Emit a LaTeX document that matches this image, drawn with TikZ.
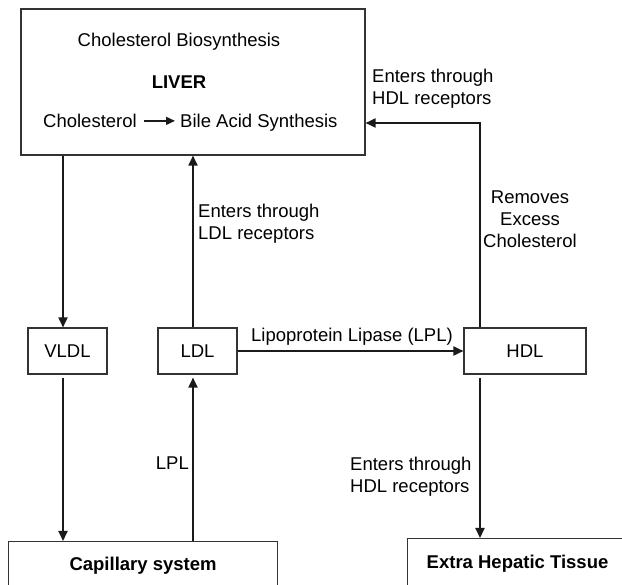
\documentclass[tikz,border=0pt]{standalone}
\usepackage{fontspec}
\setmainfont{Liberation Sans}
\usetikzlibrary{arrows.meta,positioning}
\definecolor{boxgray}{HTML}{333333}
\definecolor{linegray}{HTML}{1a1a1a}

\begin{document}
\begin{tikzpicture}[x=1pt, y=-1pt,
		every node/.style={font=\fontsize{18.5}{22}\selectfont, inner sep=0pt},
		bold/.style={font=\fontsize{18.5}{22}\selectfont\bfseries},
		box/.style={draw=boxgray, line width=1.1pt},
		smallbox/.style={box, minimum height=46pt},
		flow/.style={draw=linegray, line width=1.8pt, -{Triangle[length=10pt,width=9pt]}}]
		\useasboundingbox (0,0) rectangle (622,585);
		% liver box
		\node[box, minimum width=344pt, minimum height=146pt] (liver) at (193,82) {};
		\node (biosyn) at (179,42) {Cholesterol Biosynthesis};
		\node[bold] (livername) at (179,82) {LIVER};
		\node[anchor=base west] (chol) at (43,127.5) {Cholesterol};
		\node[anchor=base west] (bile) at (180,127.5) {Bile Acid Synthesis};
		\draw[flow, line width=1.4pt, -{Triangle[length=9pt,width=8pt]}, shorten <=7pt, shorten >=5pt] (chol.east) -- (chol.east -| bile.west);
		% lipoproteins
		\node[smallbox, minimum width=79pt] (vldl) at (67.5,351) {VLDL};
		\node[smallbox, minimum width=79pt] (ldl) at (197.5,351) {LDL};
		\node[smallbox, minimum width=122pt] (hdl) at (525,351) {HDL};
		% tissues (cut at page edge)
		\node[box, bold, anchor=north west, minimum width=269pt, inner ysep=16pt] (cap) at (8,541) {Capillary system};
		\node[box, bold, anchor=north west, minimum width=220pt, inner ysep=17pt] (extra) at (407,538) {Extra Hepatic Tissue};
		\coordinate (bend) at (480,123);
		% arrows
		\draw[flow] ([xshift=-4.5pt]vldl.north |- liver.south) -- ([xshift=-4.5pt]vldl.north);
		\draw[flow, shorten <=3pt] ([xshift=-4.5pt]vldl.south) -- ([xshift=-4.5pt]vldl.south |- cap.north);
		\draw[flow, shorten >=3pt] ([xshift=-4.5pt]ldl.south |- cap.north) -- ([xshift=-4.5pt]ldl.south);
		\draw[flow] ([xshift=-4.5pt]ldl.north) -- ([xshift=-4.5pt]ldl.north |- liver.south);
		\draw[flow] (ldl.east) -- (hdl.west);
		\draw[flow] ([xshift=-45pt]hdl.north) -- (bend) -- (bend -| liver.east);
		\draw[flow, shorten <=3pt] ([xshift=-45pt]hdl.south) -- ([xshift=-45pt]hdl.south |- extra.north);
		% labels
		\node[align=left, anchor=west] (ldlrec) at (198,224) {Enters through\\LDL receptors};
		\node (lplname) at (352,337) {Lipoprotein Lipase (LPL)};
		\node[anchor=east] (lpl) at (189,463) {LPL};
		\node[align=left, anchor=west] (hdlrec) at (372,89) {Enters through\\HDL receptors};
		\node[align=center] (removes) at (530,219) {Removes\\Excess\\Cholesterol};
		\node[align=left, anchor=west] (tissuerec) at (350,477) {Enters through\\HDL receptors};
	\end{tikzpicture}
\end{document}
